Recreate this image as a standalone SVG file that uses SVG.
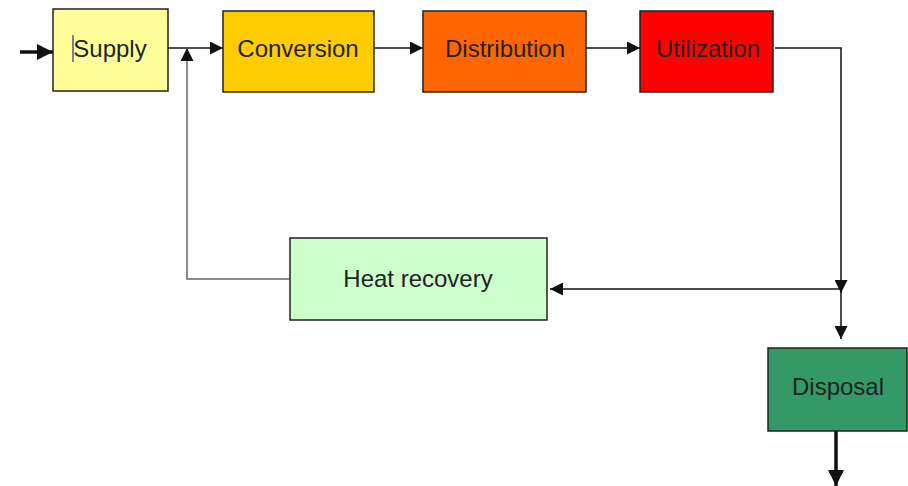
<svg xmlns="http://www.w3.org/2000/svg" width="908" height="486" viewBox="0 0 908 486">
<style>
.box{stroke:#222;stroke-width:1.5}
.lbl{font-family:"Liberation Sans",Arial,sans-serif;font-size:24px;fill:#222;text-anchor:middle}
.ln{fill:none;stroke:#111;stroke-width:1.5}
.thick{fill:none;stroke:#111;stroke-width:3.5}
</style>
<defs>
<marker id="ah" markerWidth="13" markerHeight="13" refX="13" refY="6.5" orient="auto" markerUnits="userSpaceOnUse" viewBox="0 0 13 13">
<path d="M0,0 L13,6.5 L0,13 z" fill="#111"/>
</marker>
<marker id="ahb" markerWidth="16" markerHeight="16" refX="16" refY="8" orient="auto" markerUnits="userSpaceOnUse" viewBox="0 0 16 16">
<path d="M0,0 L16,8 L0,16 z" fill="#111"/>
</marker>
</defs>
<rect width="908" height="486" fill="#fff"/>
<g id="connectors">
<path class="thick" d="M20,52 L53,52" marker-end="url(#ahb)"/>
<path class="ln" d="M168,48 L223,48" marker-end="url(#ah)"/>
<path class="ln" d="M374,48 L423,48" marker-end="url(#ah)"/>
<path class="ln" d="M586,48 L640,48" marker-end="url(#ah)"/>
<path class="ln" d="M775,48 L841,48 L841,293" marker-end="url(#ah)"/>
<path class="ln" d="M841,288 L841,339" marker-end="url(#ah)"/>
<path class="ln" d="M841,289 L550,289" marker-end="url(#ah)"/>
<path fill="none" stroke="#666" stroke-width="1.5" d="M290,279 L187,279 L187,48" marker-end="url(#ah)"/>
<path class="thick" d="M836,431 L836,486" marker-end="url(#ahb)"/>
</g>
<g id="supply">
<rect class="box" x="53" y="9" width="115" height="82" fill="#FFFF99"/>
<line x1="73" y1="35" x2="73" y2="62" stroke="#2a2a8a" stroke-width="1.2"/>
<text class="lbl" x="110" y="57">Supply</text>
</g>
<g id="conversion">
<rect class="box" x="223" y="11" width="151" height="81" fill="#FFCC00"/>
<text class="lbl" x="298" y="57">Conversion</text>
</g>
<g id="distribution">
<rect class="box" x="423" y="11" width="163" height="81" fill="#FF6600"/>
<text class="lbl" x="505" y="57">Distribution</text>
</g>
<g id="utilization">
<rect class="box" x="640" y="11" width="133" height="81" fill="#FF0000"/>
<text class="lbl" x="708" y="57">Utilization</text>
</g>
<g id="heat-recovery">
<rect class="box" x="290" y="238" width="257" height="82" fill="#CCFFCC"/>
<text class="lbl" x="418" y="287">Heat recovery</text>
</g>
<g id="disposal">
<rect class="box" x="768" y="348" width="139" height="83" fill="#339966"/>
<text class="lbl" x="838" y="395">Disposal</text>
</g>
</svg>
